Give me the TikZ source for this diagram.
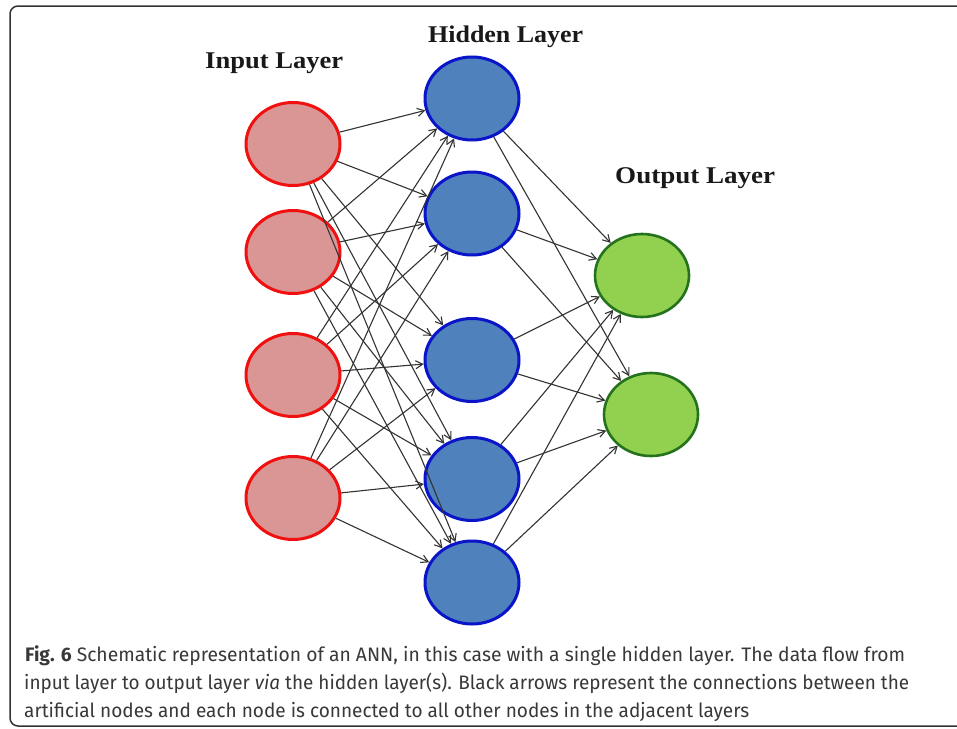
\documentclass[tikz,border=0pt]{standalone}
\usepackage{fontspec}
\setmainfont{Liberation Serif}
\newfontfamily\capfont{Fira Sans}
\usetikzlibrary{shapes.geometric,arrows.meta}
\definecolor{inFill}{HTML}{D99694}
\definecolor{inLine}{HTML}{F01010}
\definecolor{hidFill}{HTML}{4F81BD}
\definecolor{hidLine}{HTML}{0A14C8}
\definecolor{outFill}{HTML}{92D050}
\definecolor{outLine}{HTML}{24731C}
\definecolor{frameCol}{HTML}{333333}
\begin{document}
\begin{tikzpicture}[x=1pt,y=-1pt,
  neuron/.style={ellipse, minimum width=94pt, minimum height=83pt, inner sep=0pt, line width=3pt},
  inpnode/.style={neuron, draw=inLine, fill=inFill},
  hidnode/.style={neuron, draw=hidLine, fill=hidFill},
  outnode/.style={neuron, draw=outLine, fill=outFill, line width=2.6pt},
  conn/.style={draw=black!80, line width=1.1pt, -{Straight Barb[length=7pt,width=8pt]}},
  layerlabel/.style={anchor=base west, inner sep=0pt, font=\fontsize{24}{28}\selectfont\bfseries, text=black!90},
  capline/.style={anchor=base west, inner sep=0pt, font=\capfont\fontsize{19.5}{24}\selectfont, text=black!78}]
\useasboundingbox (0,0) rectangle (957,728);
\draw[rounded corners=8pt, line width=1.5pt, frameCol] (10,6) rectangle (990,726);

% nodes
\node[inpnode] (i1) at (293,144) {};
\node[inpnode] (i2) at (293,252) {};
\node[inpnode] (i3) at (293,375) {};
\node[inpnode] (i4) at (293,498) {};
\node[hidnode] (h1) at (472,98.5) {};
\node[hidnode] (h2) at (472,213.5) {};
\node[hidnode] (h3) at (472,360) {};
\node[hidnode] (h4) at (472,479) {};
\node[hidnode] (h5) at (472,582.5) {};
\node[outnode] (o1) at (642,275.5) {};
\node[outnode] (o2) at (651,414.5) {};

% connections
\foreach \a in {1,2,3,4}{
  \foreach \b in {1,2,3,4,5}{
    \draw[conn] (i\a) -- (h\b);
  }
}
\foreach \a in {1,2,3,4,5}{
  \foreach \b in {1,2}{
    \draw[conn] (h\a) -- (o\b);
  }
}

% layer labels
\node[layerlabel] (lin) at (205,68) {\resizebox{138pt}{\height}{Input Layer}};
\node[layerlabel] (lhid) at (428,42) {\resizebox{155pt}{\height}{Hidden Layer}};
\node[layerlabel] (lout) at (615,183) {\resizebox{160pt}{\height}{Output Layer}};

% caption
\node[capline] (c1) at (25,661) {\resizebox{880pt}{\height}{\textbf{Fig. 6} Schematic representation of an ANN, in this case with a single hidden layer. The data flow from}};
\node[capline] (c2) at (24,689) {\resizebox{885pt}{\height}{input layer to output layer \textit{via} the hidden layer(s). Black arrows represent the connections between the}};
\node[capline] (c3) at (24,717) {\resizebox{725pt}{\height}{artificial nodes and each node is connected to all other nodes in the adjacent layers}};
\end{tikzpicture}
\end{document}
